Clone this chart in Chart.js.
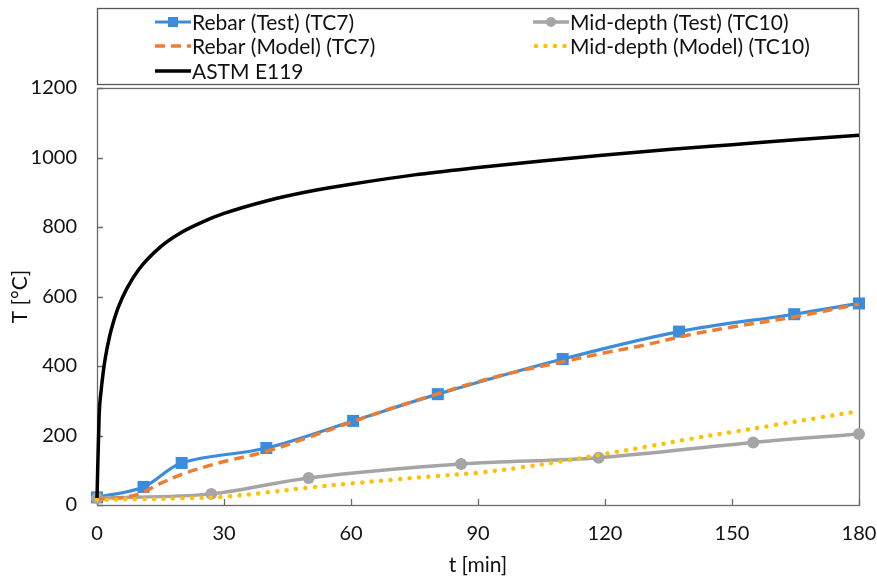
<!DOCTYPE html>
<html>
<head>
<meta charset="utf-8">
<script src="https://cdn.jsdelivr.net/npm/chart.js@4"></script>
<style>
html, body { margin: 0; padding: 0; background: #fff; }
</style>
</head>
<body>
<canvas id="chart" width="877" height="581"></canvas>
<script>
"use strict";
// values (t in min, T in °C)
const rebarTestT = [0, 11, 20, 40, 60.5, 80.5, 110, 137.5, 164.7, 180];
const rebarTestV = [22, 52, 121, 164, 242, 319, 420, 499, 549, 580];
const midTestT = [0, 27, 50, 86, 118.5, 155, 180];
const midTestV = [20, 32, 78, 118, 136, 180, 204];
const rebarModelT = [0, 5, 10, 15, 20, 25, 30, 40, 50, 60, 70, 80, 90, 100, 110, 120, 130, 140, 150, 165, 180];
const rebarModelV = [18, 20, 32, 62, 88, 108, 125, 154, 195, 238, 280, 318, 355, 386, 412, 438, 462, 490, 512, 542, 578];
const midModelT = [0, 10, 20, 30, 40, 50, 60, 70, 80, 90, 100, 110, 120, 130, 140, 150, 160, 170, 180];
const midModelV = [15, 17, 19, 24, 36, 50, 62, 73, 83, 93, 108, 126, 147, 168, 190, 210, 230, 250, 270];
const astmT = [0, 0.5, 1, 1.5, 2, 3, 4, 5, 7, 10, 15, 20, 25, 30, 40, 50, 60, 75, 90, 105, 120, 135, 150, 165, 180];
const astmV = [20, 255, 332, 385, 426, 487, 532, 568, 622, 680, 743, 785, 815, 839, 875, 902, 923, 950, 971, 990, 1007, 1023, 1037, 1051, 1064];
const seriesNames = ["Rebar (Test) (TC7)", "Mid-depth (Test) (TC10)", "Rebar (Model) (TC7)", "Mid-depth (Model) (TC10)", "ASTM E119"];
const xTicks = [0, 30, 60, 90, 120, 150, 180];
const yTicks = [0, 200, 400, 600, 800, 1000, 1200];

const FONT = "Lato, 'Open Sans', sans-serif";
const pts = (t, v) => t.map((x, i) => ({ x, y: v[i] }));

const frame = {
    id: "frame",
    beforeDatasetsDraw(chart)
    {
        const { ctx, chartArea: a, scales: { x, y } } = chart;
        ctx.save();
        ctx.strokeStyle = "#6b6b6b";
        ctx.lineWidth = 1.3;
        ctx.strokeRect(a.left + 0.5, a.top + 0.5, a.right - a.left, a.bottom - a.top);
        ctx.beginPath();
        yTicks.forEach(v =>
        {
            const py = Math.round(y.getPixelForValue(v)) + 0.5;
            ctx.moveTo(a.left, py); ctx.lineTo(a.left + 6, py);
        });
        xTicks.forEach(v =>
        {
            const px = Math.round(x.getPixelForValue(v)) + 0.5;
            ctx.moveTo(px, a.bottom); ctx.lineTo(px, a.bottom - 6);
        });
        ctx.stroke();
        ctx.restore();
    }
};

const boxLegend = {
    id: "boxLegend",
    afterDraw(chart)
    {
        const ctx = chart.ctx;
        ctx.save();
        ctx.strokeStyle = "#555";
        ctx.lineWidth = 1.3;
        ctx.strokeRect(97.5, 8.5, 761, 76);
        const cols = [155, 533], rows = [22, 46, 71];
        chart.data.datasets.forEach((d, i) =>
        {
            const x0 = cols[i % 2], yy = rows[Math.floor(i / 2)];
            ctx.save();
            ctx.strokeStyle = d.borderColor;
            ctx.lineWidth = d.borderWidth;
            ctx.lineCap = d.borderCapStyle || "butt";
            ctx.setLineDash(d.borderDash || []);
            ctx.beginPath();
            ctx.moveTo(x0 + (d.borderDash && d.borderDash[0] === 0 ? 3 : 0), yy);
            ctx.lineTo(x0 + 36, yy);
            ctx.stroke();
            ctx.restore();
            if (d.pointRadius)
            {
                ctx.fillStyle = d.borderColor;
                if (d.pointStyle === "rect") ctx.fillRect(x0 + 13, yy - 5, 10, 10);
                else { ctx.beginPath(); ctx.arc(x0 + 18, yy, 5, 0, Math.PI * 2); ctx.fill(); }
            }
            ctx.fillStyle = "#111";
            ctx.font = "21px " + FONT;
            ctx.textBaseline = "middle";
            ctx.fillText(d.label, x0 + 37, yy + 1);
        });
        ctx.restore();
    }
};

const line = (label, t, v, color, extra) => Object.assign({
    label,
    data: pts(t, v),
    borderColor: color,
    backgroundColor: color,
    borderWidth: 3.5,
    pointRadius: 0,
    pointHoverRadius: 0,
    tension: 0.35,
    clip: false,
    fill: false
}, extra);

const datasets = [
    line(seriesNames[0], rebarTestT, rebarTestV, "#3b8ddb", { pointStyle: "rect", pointRadius: 8.5, pointBorderWidth: 0, order: 5, borderWidth: 3.2 }),
    line(seriesNames[1], midTestT, midTestV, "#a5a5a5", { pointStyle: "circle", pointRadius: 6, pointBorderWidth: 0, order: 4 }),
    line(seriesNames[2], rebarModelT, rebarModelV, "#ee7d31", { borderDash: [10, 6], order: 3 }),
    line(seriesNames[3], midModelT, midModelV, "#ffc000", { borderDash: [0, 9.5], borderCapStyle: "round", borderWidth: 4.5, order: 2 }),
    line(seriesNames[4], astmT, astmV, "#000000", { cubicInterpolationMode: "monotone", order: 1 })
];

new Chart(document.getElementById("chart"), {
    type: "line",
    data: { datasets },
    plugins: [frame, boxLegend],
    options: {
        responsive: false,
        animation: false,
        devicePixelRatio: 1,
        layout: { padding: { top: 88, right: 18, left: 0, bottom: 0 } },
        plugins: { legend: { display: false }, tooltip: { enabled: false } },
        scales: {
            x: {
                type: "linear",
                min: 0,
                max: 180,
                afterFit: s => { s.height = 76; s.paddingRight = 18; s.paddingLeft = 0; },
                afterBuildTicks: s => { s.ticks = xTicks.map(value => ({ value })); },
                grid: { display: false, drawTicks: false },
                border: { display: false },
                ticks: { color: "#111", font: { family: FONT, size: 20 }, padding: 17, maxRotation: 0, callback: v => String(v) },
                title: { display: true, text: "t [min]", color: "#111", font: { family: FONT, size: 21, lineHeight: 1.2 }, padding: { top: 0, bottom: 3 } }
            },
            y: {
                min: 0,
                max: 1200,
                afterFit: s => { s.width = 97; },
                afterBuildTicks: s => { s.ticks = yTicks.map(value => ({ value })); },
                grid: { display: false, drawTicks: false },
                border: { display: false },
                ticks: { color: "#111", font: { family: FONT, size: 20 }, padding: 20, callback: v => String(v) },
                title: { display: true, text: "T [°C]", color: "#111", font: { family: FONT, size: 21, lineHeight: 1.2 }, padding: { top: 8, bottom: 0 } }
            }
        }
    }
});
</script>
</body>
</html>
